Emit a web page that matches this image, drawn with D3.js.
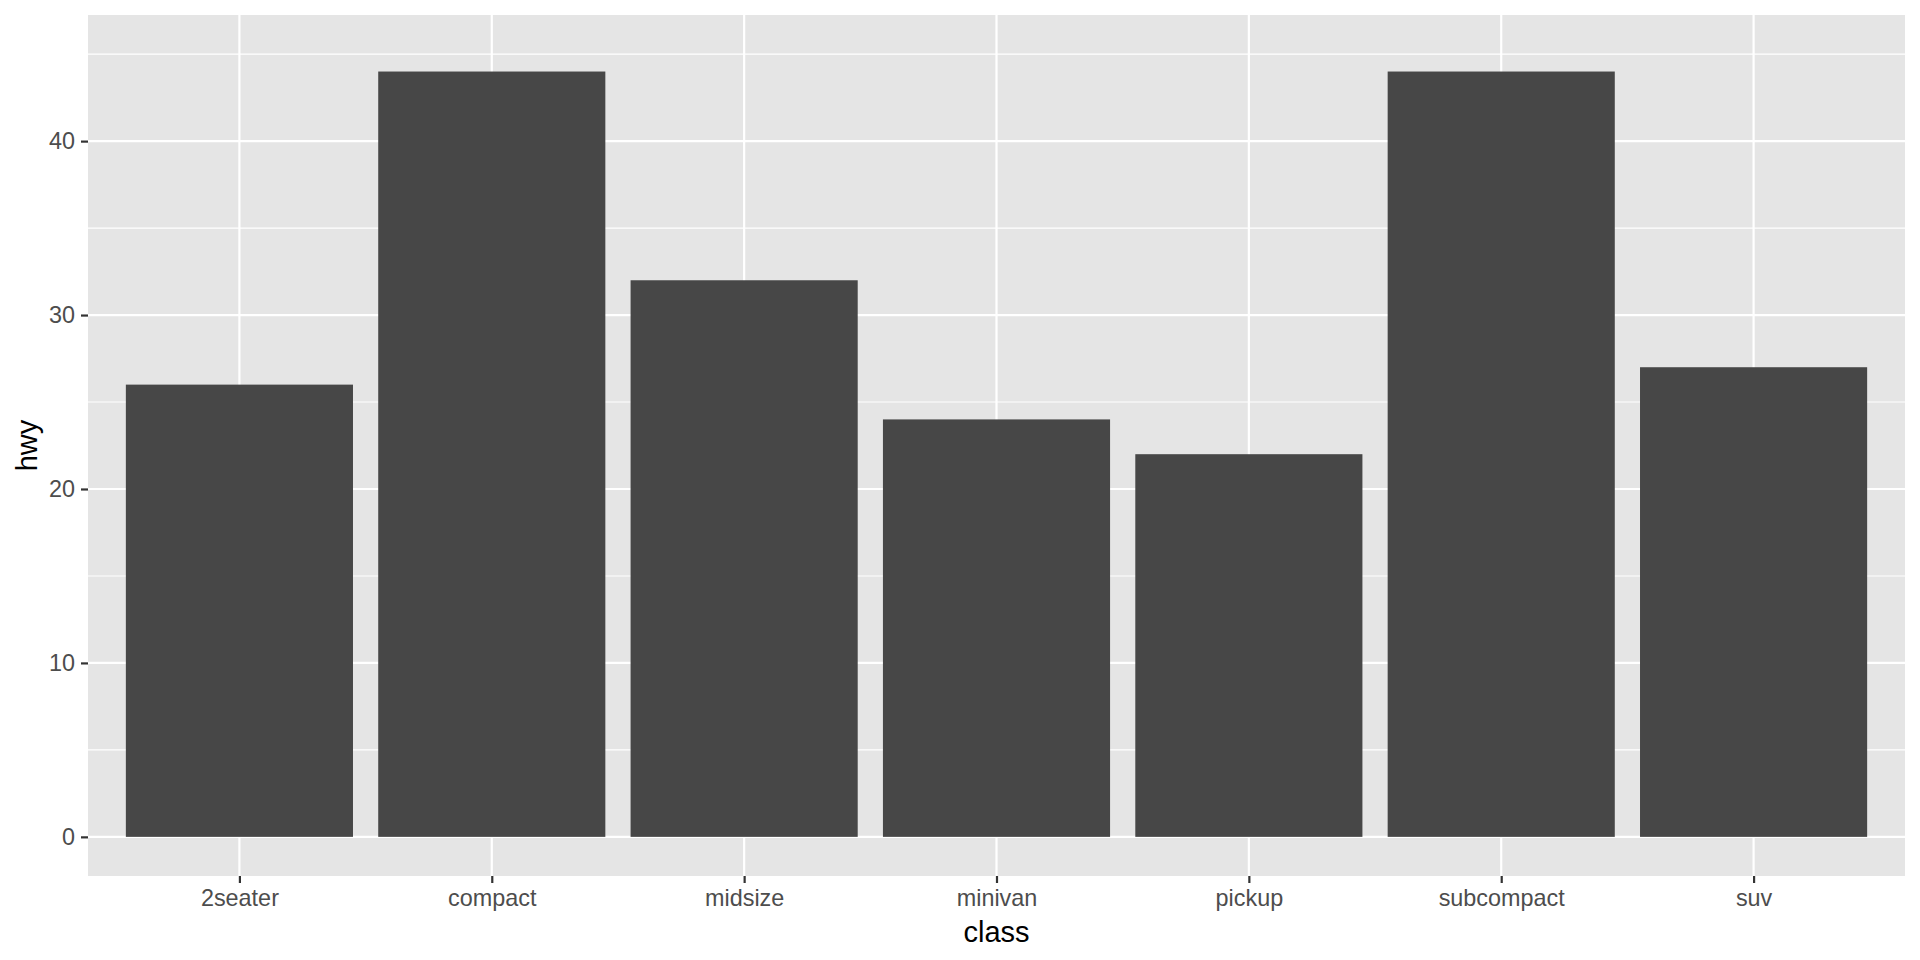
<!DOCTYPE html>
<html>
<head>
<meta charset="utf-8">
<script src="https://cdn.jsdelivr.net/npm/d3@7"></script>
<style>
  html, body { margin: 0; padding: 0; background: #ffffff; }
  svg { display: block; font-family: "Liberation Sans", Arial, Helvetica, sans-serif; }
</style>
</head>
<body>
<svg id="chart" width="1920" height="960"></svg>
<script>
const categories = ["2seater", "compact", "midsize", "minivan", "pickup", "subcompact", "suv"];
const hwyValues = [26, 44, 32, 24, 22, 44, 27];
const yTicks = [0, 10, 20, 30, 40];
const yMinorTicks = [5, 15, 25, 35, 45];
const xTitle = "class";
const yTitle = "hwy";

const W = 1920, H = 960;
const panel = { left: 88, right: 1905, top: 15, bottom: 876 };

const svg = d3.select("#chart");

// Discrete x scale with ggplot-style expansion (0.6 units each side)
const x = d3.scaleLinear()
  .domain([0.4, categories.length + 0.6])
  .range([panel.left, panel.right]);
const xPos = c => x(categories.indexOf(c) + 1);
const bandW = x(1.45) - x(0.55);

const y = d3.scaleLinear()
  .domain([-2.25, 47.25])
  .range([panel.bottom, panel.top]);

// Panel background
svg.append("rect")
  .attr("x", panel.left).attr("y", panel.top)
  .attr("width", panel.right - panel.left)
  .attr("height", panel.bottom - panel.top)
  .attr("fill", "#E5E5E5");

// Minor grid
svg.append("g").selectAll("line").data(yMinorTicks).join("line")
  .attr("x1", panel.left).attr("x2", panel.right)
  .attr("y1", d => y(d)).attr("y2", d => y(d))
  .attr("stroke", "#ffffff").attr("stroke-width", 1.1);

// Major grid
svg.append("g").selectAll("line").data(yTicks).join("line")
  .attr("x1", panel.left).attr("x2", panel.right)
  .attr("y1", d => y(d)).attr("y2", d => y(d))
  .attr("stroke", "#ffffff").attr("stroke-width", 2.2);

svg.append("g").selectAll("line").data(categories).join("line")
  .attr("x1", d => xPos(d)).attr("x2", d => xPos(d))
  .attr("y1", panel.top).attr("y2", panel.bottom)
  .attr("stroke", "#ffffff").attr("stroke-width", 2.2);

// Bars
svg.append("g").selectAll("rect").data(categories).join("rect")
  .attr("x", d => xPos(d) - bandW / 2)
  .attr("width", bandW)
  .attr("y", (d, i) => y(hwyValues[i]))
  .attr("height", (d, i) => y(0) - y(hwyValues[i]))
  .attr("fill", "#474747");

// Y axis
const yAxis = d3.axisLeft(y).tickValues(yTicks).tickSize(7).tickPadding(6).tickFormat(d3.format("d"));
const gy = svg.append("g").attr("transform", `translate(${panel.left},0)`).call(yAxis);
gy.select(".domain").remove();
gy.selectAll(".tick line").attr("stroke", "#333333").attr("stroke-width", 2.2);
gy.selectAll(".tick text").attr("fill", "#4D4D4D").attr("font-size", 23.4)
  .attr("font-family", "'Liberation Sans', Arial, sans-serif");

// X axis
const xAxis = d3.axisBottom(x).tickValues(categories.map((c, i) => i + 1))
  .tickFormat(d => categories[d - 1]).tickSize(7).tickPadding(6);
const gx = svg.append("g").attr("transform", `translate(0,${panel.bottom})`).call(xAxis);
gx.select(".domain").remove();
gx.selectAll(".tick line").attr("stroke", "#333333").attr("stroke-width", 2.2);
gx.selectAll(".tick text").attr("fill", "#4D4D4D").attr("font-size", 23.4)
  .attr("font-family", "'Liberation Sans', Arial, sans-serif");

// Axis titles
svg.append("text")
  .attr("x", (panel.left + panel.right) / 2)
  .attr("y", 942)
  .attr("text-anchor", "middle")
  .attr("font-size", 29)
  .attr("fill", "#000000")
  .text(xTitle);

svg.append("text")
  .attr("transform", `translate(37,${(panel.top + panel.bottom) / 2}) rotate(-90)`)
  .attr("text-anchor", "middle")
  .attr("font-size", 29)
  .attr("fill", "#000000")
  .text(yTitle);
</script>
</body>
</html>
